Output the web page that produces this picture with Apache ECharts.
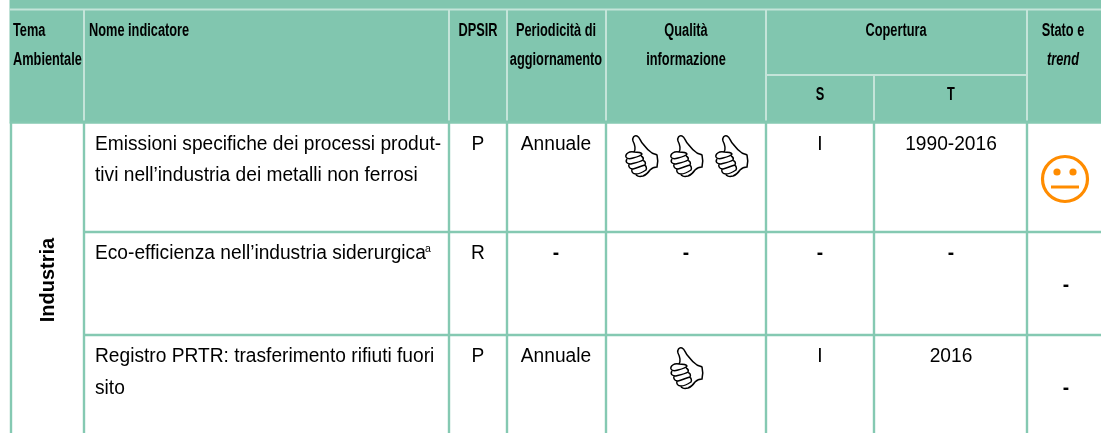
<!DOCTYPE html>
<html><head><meta charset="utf-8">
<style>html,body{margin:0;padding:0;background:#fff}#c{width:1101px;height:433px}</style>
<script src="https://cdn.jsdelivr.net/npm/echarts@6/dist/echarts.min.js"></script>
</head><body><div id="c"></div>
<script>
const theme = 'Industria';
const indicators = [
  ['Emissioni specifiche dei processi produt-', 'tivi nell’industria dei metalli non ferrosi'],
  ['Eco-efficienza nell’industria siderurgica'],
  ['Registro PRTR: trasferimento rifiuti fuori', 'sito']
];
const dpsir = ['P', 'R', 'P'];
const periodicita = ['Annuale', '-', 'Annuale'];
const qualita = [3, '-', 1];
const coperturaS = ['I', '-', 'I'];
const coperturaT = ['1990-2016', '-', '2016'];
const stato = ['neutral', '-', '-'];

const GREEN = '#81c6af', LINE = '#85c9b2', LIGHT = '#c4e4d9', BLACK = '#000';
const X = {left: 11, nome: 84, dpsir: 449, per: 507, qual: 606, s: 766, t: 874, st: 1027, right: 1101};
const Y = {top: 9.5, sub: 75, head: 122.5, r1: 232, r2: 335, bottom: 433};
const rowY = [144, 253, 356], row2Y = [175, 0, 388];
const els = [];
const rect = (x, y, w, h, fill) => els.push({type: 'rect', silent: true, shape: {x, y, width: w, height: h}, style: {fill}});
const hline = (x1, x2, y, c, w) => rect(x1, y - w / 2, x2 - x1, w, c);
const vline = (x, y1, y2, c, w) => rect(x - w / 2, y1, w, y2 - y1, c);
function text(str, x, y, o) {
  o = o || {};
  els.push({type: 'text', silent: true, x, y, scaleX: o.sx || 1, rotation: o.rot || 0,
    style: {text: str, x: 0, y: 0, fill: BLACK, align: o.align || 'center', verticalAlign: 'middle',
      font: (o.italic ? 'italic ' : '') + (o.bold ? 'bold ' : '') + (o.size || 20) + 'px "Liberation Sans", Arial, sans-serif'}});
}
const HS = 0.71, BS = 0.958;
const head = (s, x, y, o) => text(s, x, y, Object.assign({bold: true, size: 18, sx: HS}, o || {}));
const body = (s, x, y, o) => text(s, x, y, Object.assign({size: 20, sx: BS, bold: s === '-'}, o || {}));

// thumb icon, drawn in a 33x42 box
const THUMB = 'M9 17C11 14 10 10 8 6C7 3 9 0 12 1C15 2 15 6 18 9C21 13 24 16 27 18C29 19 31 19 32 20C33 24 33 28 32 32C29 32 27 33 25 35C23 38 21 40 18 41'
 + 'M9 17C4 16 0 19 1 22C2 24 5 24 8 23C12 22 16 21 17 19C16 17 12 17 9 17Z'
 + 'M2 24C0 27 2 29 6 29C10 28 15 27 18 25C19 23 17 21.5 16 21'
 + 'M4 29C3 32 5 34 8 34C12 33 16 31 20 30C21 28 20 26 18 25.5'
 + 'M7 34C6 37 8 39 11 39C14 39 18 37 21 35C22 33 21 31 20 30.5'
 + 'M11 39C11 41 14 42 18 41';
echarts.graphic.registerShape('thumb', echarts.graphic.extendPath(THUMB));
function thumb(x, y) {
  els.push({type: 'thumb', silent: true, x, y, style: {fill: 'none', stroke: '#000', lineWidth: 1.5}});
}

// header
rect(X.left - 1.5, 0, X.right - X.left + 1.5, Y.head + 1, GREEN);
hline(X.left - 1.5, X.right, Y.top, LIGHT, 2);
[X.nome, X.dpsir, X.per, X.qual, X.s, X.st].forEach(x => vline(x, Y.top, Y.head - 2, LIGHT, 2));
vline(X.t, Y.sub, Y.head - 2, LIGHT, 2);
hline(X.s, X.st, Y.sub, LIGHT, 2);
head('Tema', 13, 31, {align: 'left'});
head('Ambientale', 13, 60, {align: 'left'});
head('Nome indicatore', 89, 31, {align: 'left'});
head('DPSIR', 478, 31);
head('Periodicità di', 556, 31);
head('aggiornamento', 556, 60);
head('Qualità', 686, 31);
head('informazione', 686, 60);
head('Copertura', 896, 31);
head('S', 820, 95);
head('T', 951, 95);
head('Stato e', 1063, 31);
head('trend', 1063, 60, {italic: true});

// grid
hline(X.left - 1, X.right, Y.head, LINE, 2);
hline(X.nome, X.right, Y.r1, LINE, 2.4);
hline(X.nome, X.right, Y.r2, LINE, 2.4);
[X.left, X.nome, X.dpsir, X.per, X.qual, X.s, X.t, X.st].forEach(x => vline(x, Y.head, Y.bottom, LINE, 2.4));

// body
text(theme, 48, 280, {bold: true, size: 20, rot: Math.PI / 2});
indicators.forEach((lines, i) => {
  body(lines[0], 95, rowY[i], {align: 'left'});
  if (lines[1]) body(lines[1], 95, row2Y[i], {align: 'left'});
});
text('a', 428, 249, {size: 11, sx: BS});
dpsir.forEach((v, i) => body(v, 478, rowY[i]));
periodicita.forEach((v, i) => body(v, 556, rowY[i]));
coperturaS.forEach((v, i) => body(v, 820, rowY[i]));
coperturaT.forEach((v, i) => body(v, 951, rowY[i]));
qualita.forEach((v, i) => {
  if (v === '-') return body(v, 686, rowY[i]);
  const xs = v === 3 ? [625, 670, 715] : [670];
  xs.forEach(x => thumb(x, i === 0 ? 135 : 347));
});
const statoY = [179, 285, 388];
stato.forEach((v, i) => {
  if (v === '-') return body(v, 1066, statoY[i]);
  const O = '#ff8c00', cx = 1065, cy = statoY[i];
  els.push({type: 'circle', silent: true, shape: {cx, cy, r: 22.5}, style: {fill: '#fff', stroke: O, lineWidth: 3.2}});
  els.push({type: 'circle', silent: true, shape: {cx: cx - 8, cy: cy - 7, r: 3.6}, style: {fill: O}});
  els.push({type: 'circle', silent: true, shape: {cx: cx + 8, cy: cy - 7, r: 3.6}, style: {fill: O}});
  rect(cx - 14, cy + 6.5, 28, 3, O);
});

const chart = echarts.init(document.getElementById('c'), null, {renderer: 'canvas'});
chart.setOption({animation: false, backgroundColor: '#fff', graphic: {elements: els}});
</script></body></html>
